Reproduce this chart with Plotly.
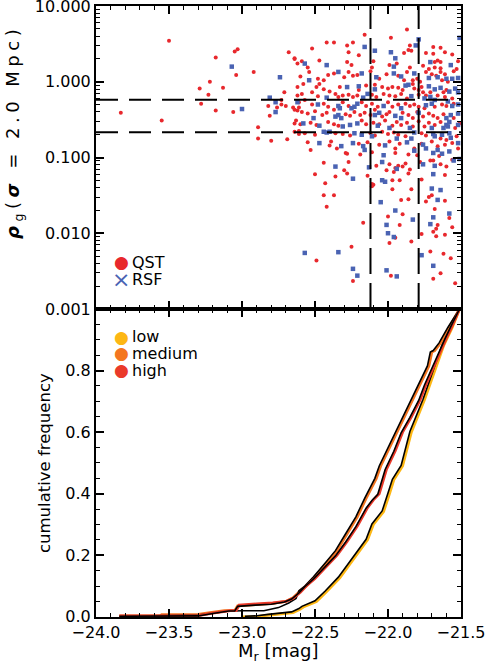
import plotly.graph_objects as go

# ---------------- data: top panel (Mr [mag], log10 rho_g) ----------------
qst_points = [
    (-23.83, -0.41), (-23.55, -0.51), (-23.50, 0.54), (-23.29, -0.09), (-23.28, -0.29), (-23.22, 0.00),
    (-23.23, -0.17), (-23.18, 0.32), (-23.18, -0.38), (-23.13, -0.08), (-23.06, -0.40), (-23.05, 0.40),
    (-23.03, 0.43), (-23.04, 0.09), (-22.92, 0.13), (-22.68, 0.39), (-22.64, 0.30), (-22.62, 0.24),
    (-22.71, -0.14), (-22.73, -0.24), (-22.73, -0.30), (-22.82, -0.32), (-22.76, -0.34), (-22.81, -0.45),
    (-22.70, -0.32), (-22.65, -0.34), (-22.62, -0.38), (-22.62, -0.07), (-22.62, -0.18), (-22.61, -0.34),
    (-22.64, -0.55), (-22.89, -0.60), (-22.89, -0.75), (-22.80, -0.78), (-22.69, -0.76), (-22.64, -0.66),
    (-22.61, -0.69),
    (-21.87, 0.69), (-22.16, 0.62), (-22.42, 0.52), (-22.37, 0.52), (-22.28, 0.48), (-22.24, 0.52),
    (-21.98, 0.58), (-22.52, 0.44), (-21.85, 0.48), (-21.84, 0.41), (-21.86, 0.42), (-21.69, 0.46),
    (-21.64, 0.45), (-22.27, 0.39), (-21.89, 0.38), (-22.20, 0.35), (-21.74, 0.38), (-21.69, 0.37),
    (-21.61, 0.39), (-21.56, 0.36), (-22.64, 0.31), (-22.47, 0.28), (-22.59, 0.27), (-22.28, 0.26),
    (-22.10, 0.27), (-21.94, 0.24), (-21.68, 0.26), (-21.66, 0.28), (-21.64, 0.26), (-21.52, 0.27),
    (-22.55, 0.19), (-22.25, 0.22), (-22.11, 0.19), (-21.99, 0.22), (-21.85, 0.19), (-21.76, 0.21),
    (-21.72, 0.17), (-21.68, 0.19), (-21.64, 0.18), (-21.53, 0.17), (-22.54, 0.13), (-22.27, 0.13),
    (-22.37, 0.11), (-22.41, 0.09), (-22.12, 0.14), (-22.01, 0.10), (-21.93, 0.08), (-21.87, 0.13),
    (-21.74, 0.13), (-21.70, 0.10), (-21.67, 0.08), (-21.64, 0.13), (-21.61, 0.10), (-21.55, 0.14),
    (-22.60, 0.07), (-22.48, 0.04), (-22.44, 0.02), (-22.30, 0.06), (-22.24, 0.08), (-22.21, 0.09),
    (-22.06, 0.04), (-21.89, 0.02), (-21.83, 0.02), (-21.80, 0.04), (-21.78, 0.00), (-21.63, 0.02),
    (-21.59, 0.00), (-22.58, -0.03), (-22.49, -0.07), (-22.47, -0.03), (-22.44, -0.10), (-22.40, -0.13),
    (-22.20, -0.11), (-22.33, -0.07), (-22.15, -0.05), (-22.09, -0.04), (-22.04, -0.07), (-22.00, -0.09),
    (-21.97, -0.07), (-21.93, -0.08), (-21.90, -0.11), (-21.83, -0.03), (-21.82, -0.09), (-21.79, -0.11),
    (-21.77, -0.07), (-21.76, -0.14), (-21.71, -0.14), (-21.62, -0.14), (-21.60, -0.11), (-22.59, -0.16),
    (-22.52, -0.14), (-22.48, -0.19), (-22.36, -0.16), (-22.34, -0.20), (-22.31, -0.18), (-22.27, -0.17),
    (-22.24, -0.20), (-22.21, -0.18), (-22.11, -0.17), (-22.08, -0.20), (-22.03, -0.16), (-21.99, -0.18),
    (-21.95, -0.19), (-21.91, -0.16), (-21.87, -0.22), (-21.79, -0.17), (-21.74, -0.18), (-21.66, -0.18),
    (-21.61, -0.20), (-21.56, -0.22), (-22.61, -0.27), (-22.57, -0.24), (-22.52, -0.30), (-22.44, -0.29),
    (-22.41, -0.33), (-22.31, -0.27), (-22.27, -0.32), (-22.18, -0.27), (-22.15, -0.32), (-22.11, -0.29),
    (-22.07, -0.33), (-22.09, -0.37), (-22.00, -0.27), (-21.97, -0.33), (-21.93, -0.30), (-21.88, -0.29),
    (-21.85, -0.32), (-21.82, -0.30), (-21.79, -0.33), (-21.75, -0.35), (-21.68, -0.33), (-21.63, -0.30),
    (-21.60, -0.32), (-21.55, -0.29), (-22.64, -0.37), (-22.59, -0.40), (-22.55, -0.42), (-22.50, -0.39),
    (-22.45, -0.44), (-22.42, -0.41), (-22.37, -0.37), (-22.29, -0.43), (-22.26, -0.45), (-22.23, -0.40),
    (-22.19, -0.44), (-22.16, -0.41), (-22.12, -0.44), (-22.04, -0.46), (-22.01, -0.43), (-21.99, -0.40),
    (-21.90, -0.41), (-21.86, -0.44), (-21.83, -0.48), (-21.80, -0.40), (-21.76, -0.46), (-21.72, -0.42),
    (-21.69, -0.45), (-21.66, -0.48), (-21.62, -0.43), (-21.55, -0.48), (-22.63, -0.51), (-22.60, -0.56),
    (-22.53, -0.54), (-22.49, -0.57), (-22.41, -0.53), (-22.37, -0.56), (-22.34, -0.58), (-22.18, -0.51),
    (-22.15, -0.56), (-22.10, -0.54), (-22.06, -0.56), (-22.02, -0.51), (-21.97, -0.58), (-21.94, -0.53),
    (-21.91, -0.57), (-21.87, -0.54), (-21.83, -0.59), (-21.79, -0.52), (-21.75, -0.59), (-21.72, -0.54),
    (-21.68, -0.57), (-21.64, -0.53), (-21.54, -0.61), (-21.51, -0.55), (-22.61, -0.65), (-22.57, -0.68),
    (-22.50, -0.70), (-22.36, -0.68), (-22.31, -0.69), (-22.26, -0.71), (-22.12, -0.68), (-22.09, -0.71),
    (-22.04, -0.66), (-22.00, -0.69), (-21.96, -0.67), (-21.93, -0.70), (-21.88, -0.72), (-21.77, -0.68),
    (-21.74, -0.71), (-21.64, -0.75), (-21.60, -0.77), (-21.53, -0.72), (-22.55, -0.80), (-22.39, -0.79),
    (-22.53, -0.90), (-22.40, -0.84), (-22.35, -0.88), (-22.29, -0.94), (-22.20, -0.82), (-22.14, -0.80),
    (-22.06, -0.83), (-21.99, -0.79), (-21.95, -0.88), (-21.92, -0.82), (-21.82, -0.88), (-21.77, -0.82),
    (-21.70, -0.79), (-21.66, -0.85), (-21.61, -0.83), (-21.56, -0.81), (-21.52, -0.88), (-22.28, -0.95),
    (-22.19, -0.96), (-22.11, -0.93), (-21.95, -0.94), (-21.86, -0.96), (-21.80, -0.97), (-21.65, -0.98),
    (-22.44, -1.07), (-22.30, -1.17), (-22.28, -1.21), (-22.27, -1.06), (-22.50, -1.22), (-22.36, -1.25),
    (-22.14, -1.24), (-22.08, -1.11), (-22.01, -1.17), (-21.99, -1.09), (-21.96, -1.19), (-21.95, -1.14),
    (-21.93, -1.11), (-21.90, -1.12), (-21.88, -1.08), (-21.86, -1.21), (-21.85, -1.16), (-21.78, -1.06),
    (-21.77, -1.29), (-21.71, -1.04), (-21.69, -1.04), (-21.64, -1.09), (-21.61, -1.23), (-21.60, -1.12),
    (-21.56, -1.03), (-22.43, -1.34), (-22.11, -1.35), (-22.10, -1.36), (-22.11, -1.38), (-21.97, -1.30),
    (-21.92, -1.30), (-21.84, -1.42), (-21.97, -1.42), (-22.44, -1.50), (-22.37, -1.50), (-21.91, -1.56),
    (-21.86, -1.55), (-21.72, -1.52), (-21.70, -1.50), (-21.74, -1.58), (-21.61, -1.57), (-22.42, -1.65),
    (-21.68, -1.68), (-21.90, -1.75), (-22.00, -1.78), (-21.58, -1.80), (-22.17, -1.86), (-21.92, -1.89),
    (-21.66, -1.89), (-21.56, -1.92), (-21.67, -1.94), (-21.77, -2.01), (-21.69, -1.98), (-21.61, -2.02),
    (-21.95, -2.06), (-21.67, -2.04), (-21.99, -2.13), (-21.84, -2.11), (-22.25, -2.18), (-22.49, -2.36),
    (-21.71, -2.24), (-21.62, -2.27), (-21.57, -2.33), (-22.24, -2.63), (-21.98, -2.56), (-21.64, -2.53),
    (-21.69, -2.60), (-21.54, -2.66),
]

rsf_points = [
    (-23.07, 0.20), (-23.00, -0.36), (-22.74, 0.06), (-22.81, -0.21), (-22.77, -0.27), (-22.77, -0.40),
    (-22.62, -0.27), (-22.16, 0.46), (-22.09, 0.41), (-21.81, 0.48), (-21.79, 0.56), (-21.98, 0.39),
    (-22.57, 0.24), (-21.95, 0.31), (-21.71, 0.26), (-22.42, 0.22), (-21.96, 0.20), (-21.57, 0.22),
    (-22.34, 0.13), (-22.18, 0.11), (-21.96, 0.11), (-21.82, 0.11), (-22.54, 0.02), (-22.08, 0.06),
    (-21.91, 0.07), (-21.72, 0.05), (-21.66, 0.06), (-21.60, 0.04), (-21.56, 0.04), (-21.52, 0.05),
    (-22.28, -0.07), (-22.20, -0.06), (-22.09, -0.10), (-21.86, -0.04), (-21.88, -0.05), (-21.72, -0.06),
    (-21.68, -0.10), (-21.64, -0.08), (-21.58, -0.13), (-21.54, -0.09), (-21.52, -0.14), (-22.42, -0.21),
    (-22.17, -0.21), (-22.14, -0.16), (-21.84, -0.19), (-21.75, -0.22), (-21.71, -0.20), (-21.68, -0.24),
    (-21.59, -0.26), (-22.48, -0.30), (-22.34, -0.32), (-22.33, -0.35), (-22.23, -0.33), (-22.21, -0.29),
    (-22.03, -0.32), (-21.91, -0.35), (-21.74, -0.31), (-21.70, -0.29), (-21.56, -0.32), (-21.52, -0.30),
    (-22.51, -0.48), (-22.58, -0.55), (-22.36, -0.46), (-22.32, -0.48), (-22.34, -0.44), (-22.25, -0.35),
    (-22.09, -0.44), (-22.06, -0.41), (-21.95, -0.45), (-21.91, -0.48), (-21.79, -0.41), (-21.60, -0.48),
    (-21.52, -0.42), (-21.57, -0.44), (-22.47, -0.58), (-22.31, -0.59), (-22.26, -0.57), (-22.21, -0.55),
    (-22.07, -0.58), (-21.99, -0.61), (-21.85, -0.61), (-21.70, -0.61), (-21.60, -0.57), (-21.59, -0.59),
    (-21.62, -0.61), (-21.58, -0.53), (-21.52, -0.57), (-22.44, -0.66), (-22.42, -0.67), (-22.40, -0.66),
    (-22.23, -0.68), (-22.18, -0.70), (-22.11, -0.72), (-21.94, -0.75), (-21.84, -0.75), (-21.82, -0.67),
    (-21.69, -0.69), (-21.68, -0.72), (-21.63, -0.70), (-21.58, -0.68), (-21.57, -0.74), (-22.47, -0.81),
    (-22.32, -0.85), (-22.24, -0.81), (-22.17, -0.85), (-22.16, -0.90), (-22.02, -0.84), (-22.03, -0.97),
    (-21.87, -0.80), (-21.82, -0.91), (-21.76, -0.83), (-21.74, -0.88), (-21.69, -0.94), (-21.63, -0.95),
    (-21.58, -0.92), (-21.66, -0.90), (-21.52, -0.81), (-21.51, 0.58),
    (-22.36, -1.12), (-22.13, -1.13), (-22.24, -1.28), (-22.04, -1.06), (-21.94, -1.15), (-21.76, -1.09),
    (-21.69, -1.22), (-21.68, -1.11), (-21.55, -1.04), (-21.51, -1.02), (-22.04, -1.30), (-22.02, -1.32),
    (-21.70, -1.41), (-21.64, -1.43), (-21.66, -1.56), (-22.05, -1.59), (-21.95, -1.70), (-21.58, -1.74),
    (-21.83, -1.82), (-21.69, -1.79), (-22.01, -1.89), (-21.71, -1.88), (-22.00, -2.00), (-21.96, -2.05),
    (-22.57, -2.26), (-22.34, -2.25), (-21.77, -2.29), (-22.24, -2.47), (-22.01, -2.49), (-22.21, -2.56),
    (-21.94, -2.57), (-21.69, -2.43),
]

threshold_rho = [0.58, 0.215]      # horizontal dashed lines
threshold_mr = [-22.12, -21.79]    # vertical dashed lines

# ---------------- data: bottom panel (cumulative frequency) ----------------
low_mr = [-23.00, -22.90, -22.81, -22.70, -22.65, -22.60, -22.58, -22.49, -22.42, -22.33, -22.24, -22.14,
          -22.10, -22.03, -21.99, -21.96, -21.90, -21.84, -21.75, -21.67, -21.62, -21.56, -21.51]
low_cf = [0.0, 0.001, 0.006, 0.010, 0.014, 0.025, 0.032, 0.050, 0.082, 0.127, 0.185, 0.250,
          0.300, 0.342, 0.400, 0.445, 0.490, 0.600, 0.705, 0.810, 0.880, 0.940, 1.0]

medium_mr = [-23.84, -23.56, -23.55, -23.30, -23.22, -23.12, -23.05, -23.03, -22.90, -22.79, -22.70, -22.65,
             -22.60, -22.56, -22.50, -22.42, -22.35, -22.28, -22.21, -22.15, -22.08, -22.05, -21.99, -21.94,
             -21.88, -21.83, -21.78, -21.74, -21.72, -21.70, -21.68, -21.64, -21.58, -21.51]
medium_cf = [0.003, 0.003, 0.007, 0.008, 0.014, 0.020, 0.020, 0.036, 0.040, 0.044, 0.050, 0.062,
             0.085, 0.100, 0.130, 0.175, 0.215, 0.270, 0.325, 0.385, 0.450, 0.490, 0.550, 0.600,
             0.655, 0.705, 0.760, 0.800, 0.815, 0.860, 0.865, 0.890, 0.940, 1.0]

high_mr = [-23.84, -23.30, -23.20, -23.08, -23.04, -23.02, -22.90, -22.79, -22.70, -22.65, -22.60, -22.56,
           -22.50, -22.45, -22.42, -22.35, -22.28, -22.21, -22.14, -22.10, -22.06, -22.04, -22.01, -21.95,
           -21.90, -21.84, -21.78, -21.74, -21.69, -21.64, -21.60, -21.56, -21.51]
high_cf = [0.003, 0.004, 0.012, 0.020, 0.020, 0.038, 0.042, 0.045, 0.050, 0.060, 0.080, 0.100,
           0.125, 0.150, 0.165, 0.200, 0.245, 0.295, 0.355, 0.380, 0.400, 0.430, 0.480, 0.540,
           0.600, 0.650, 0.705, 0.755, 0.810, 0.860, 0.905, 0.945, 1.0]

low_all_mr = [-22.98, -22.91, -22.82, -22.71, -22.66, -22.61, -22.59, -22.50, -22.43, -22.34, -22.25, -22.15,
              -22.11, -22.04, -22.00, -21.97, -21.91, -21.85, -21.76, -21.68, -21.63, -21.57, -21.51]
low_all_cf = [0.002, 0.003, 0.008, 0.012, 0.016, 0.027, 0.034, 0.052, 0.084, 0.129, 0.187, 0.252,
              0.302, 0.344, 0.402, 0.447, 0.492, 0.602, 0.707, 0.812, 0.882, 0.942, 1.0]

medium_all_mr = [-23.84, -23.50, -23.30, -23.20, -23.10, -23.00, -22.85, -22.75, -22.68, -22.63, -22.61, -22.57,
                 -22.51, -22.43, -22.36, -22.29, -22.22, -22.16, -22.09, -22.06, -22.00, -21.95, -21.89, -21.84,
                 -21.79, -21.75, -21.73, -21.71, -21.69, -21.65, -21.59, -21.51]
medium_all_cf = [0.002, 0.004, 0.006, 0.012, 0.018, 0.020, 0.020, 0.030, 0.045, 0.060, 0.085, 0.100,
                 0.130, 0.175, 0.215, 0.270, 0.325, 0.385, 0.450, 0.490, 0.550, 0.600, 0.655, 0.705,
                 0.760, 0.800, 0.815, 0.860, 0.865, 0.890, 0.940, 1.0]

high_all_mr = [-23.84, -23.30, -23.20, -23.09, -23.05, -23.03, -22.91, -22.80, -22.71, -22.66, -22.61, -22.57,
               -22.51, -22.46, -22.43, -22.36, -22.29, -22.22, -22.15, -22.11, -22.07, -22.05, -22.02, -21.96,
               -21.91, -21.85, -21.79, -21.75, -21.70, -21.65, -21.61, -21.57, -21.51]
high_all_cf = [0.002, 0.003, 0.011, 0.019, 0.019, 0.034, 0.038, 0.041, 0.048, 0.058, 0.078, 0.098,
               0.123, 0.148, 0.163, 0.198, 0.243, 0.293, 0.353, 0.378, 0.398, 0.428, 0.478, 0.538,
               0.598, 0.648, 0.703, 0.753, 0.808, 0.858, 0.903, 0.943, 1.0]

x_range = [-24.0, -21.5]
x_tickvals = [-24.0, -23.5, -23.0, -22.5, -22.0, -21.5]
top_tickvals = [10, 1, 0.1, 0.01, 0.001]
top_ticktext = ["10.000", "1.000", "0.100", "0.010", "0.001"]
bot_tickvals = [0.0, 0.2, 0.4, 0.6, 0.8]
bot_ticktext = ["0.0", "0.2", "0.4", "0.6", "0.8"]

# ---------------- styles ----------------
FONT = "DejaVu Sans"
RED = "#e8282d"
BLUE = "#4a63b3"
C_LOW = "#fdb714"
C_MED = "#f47621"
C_HIGH = "#ea3a2a"

M_TOP, M_BOT = 6, 47
PLOT_H = 664 - M_TOP - M_BOT
SPLIT = 308.0 / PLOT_H          # bottom panel height fraction

fig = go.Figure()

fig.add_trace(go.Scatter(
    x=[p[0] for p in qst_points], y=[10 ** p[1] for p in qst_points],
    mode="markers", xaxis="x2", yaxis="y2", showlegend=False,
    marker=dict(color=RED, size=4, line=dict(width=0))))
fig.add_trace(go.Scatter(
    x=[p[0] for p in rsf_points], y=[10 ** p[1] for p in rsf_points],
    mode="markers", xaxis="x2", yaxis="y2", showlegend=False,
    marker=dict(color=BLUE, size=4.5, symbol="square", line=dict(width=0))))

for mr, cf, col, amr, acf in [
        (low_mr, low_cf, C_LOW, low_all_mr, low_all_cf),
        (medium_mr, medium_cf, C_MED, medium_all_mr, medium_all_cf),
        (high_mr, high_cf, C_HIGH, high_all_mr, high_all_cf)]:
    fig.add_trace(go.Scatter(x=mr, y=cf, mode="lines", xaxis="x", yaxis="y", showlegend=False,
                             line=dict(color=col, width=2.8)))
    fig.add_trace(go.Scatter(x=amr, y=acf, mode="lines", xaxis="x", yaxis="y", showlegend=False,
                             line=dict(color="black", width=1.6)))

shapes = []
for r in threshold_rho:
    shapes.append(dict(type="line", xref="x2 domain", yref="y2", x0=0, x1=1, y0=r, y1=r,
                       line=dict(color="black", width=2, dash="22px,11px")))
for m in threshold_mr:
    shapes.append(dict(type="line", xref="x2", yref="y2 domain", x0=m, x1=m, y0=0, y1=1,
                       line=dict(color="black", width=2, dash="26px,9px")))

axis_common = dict(showline=True, linecolor="black", linewidth=2, mirror="allticks",
                   ticks="inside", ticklen=8, tickwidth=1.5, tickcolor="black",
                   showgrid=False, zeroline=False, ticklabeloverflow="allow", automargin=False,
                   tickfont=dict(family=FONT, size=16, color="black"))

minor_log = []
for e in [-3, -2, -1, 0]:
    for k in range(2, 10):
        minor_log.append(k * 10 ** e)

fig.update_layout(
    width=485, height=664,
    margin=dict(l=96, r=24, t=M_TOP, b=M_BOT, autoexpand=False),
    paper_bgcolor="white", plot_bgcolor="white",
    font=dict(family=FONT, size=16, color="black"),
    xaxis=dict(domain=[0, 1], anchor="y", range=x_range, tickvals=x_tickvals,
               tickformat=".1f", minor=dict(dtick=0.1, tick0=-24, ticks="inside", ticklen=4,
                                             tickcolor="black", tickwidth=1.2),
               **axis_common),
    yaxis=dict(domain=[0, SPLIT], anchor="x", range=[-0.0005, 1.0], tickvals=bot_tickvals,
               ticktext=bot_ticktext,
               minor=dict(dtick=0.05, tick0=0, ticks="inside", ticklen=4,
                          tickcolor="black", tickwidth=1.2),
               **axis_common),
    xaxis2=dict(domain=[0, 1], anchor="y2", matches="x", range=x_range, tickvals=x_tickvals,
                showticklabels=False,
                minor=dict(dtick=0.1, tick0=-24, ticks="inside", ticklen=4,
                           tickcolor="black", tickwidth=1.2),
                **axis_common),
    yaxis2=dict(domain=[SPLIT, 1], anchor="x2", type="log", range=[-3.0005, 1.0005],
                tickvals=top_tickvals, ticktext=top_ticktext,
                minor=dict(tickvals=minor_log, ticks="inside", ticklen=4,
                           tickcolor="black", tickwidth=1.2),
                **axis_common),
    shapes=shapes,
)

def px_x(px):
    return (px - 96) / 365.0

def px_y(py):
    return (664 - M_BOT - py) / float(PLOT_H)

ann = []
# legends drawn as text (top panel: QST / RSF; bottom panel: low / medium / high)
legend_top = [("●", RED, "QST", 262), ("×", BLUE, "RSF", 279)]
for sym, col, label, py in legend_top:
    ann.append(dict(x=px_x(121), y=px_y(py), xref="paper", yref="paper", text=sym, showarrow=False,
                    xanchor="center", yanchor="middle", borderpad=0,
                    font=dict(family=FONT, size=17 if sym == "●" else 22, color=col)))
    ann.append(dict(x=px_x(131), y=px_y(py), xref="paper", yref="paper", text=label, showarrow=False,
                    xanchor="left", yanchor="middle", borderpad=0,
                    font=dict(family=FONT, size=16, color="black")))
legend_bot = [(C_LOW, "low", 336.7), (C_MED, "medium", 353.3), (C_HIGH, "high", 370)]
for col, label, py in legend_bot:
    ann.append(dict(x=px_x(121), y=px_y(py), xref="paper", yref="paper", text="●", showarrow=False,
                    xanchor="center", yanchor="middle", borderpad=0,
                    font=dict(family=FONT, size=17, color=col)))
    ann.append(dict(x=px_x(131), y=px_y(py), xref="paper", yref="paper", text=label, showarrow=False,
                    xanchor="left", yanchor="middle", borderpad=0,
                    font=dict(family=FONT, size=16, color="black")))
# axis titles
ann.append(dict(x=px_x(14), y=px_y(132), xref="paper", yref="paper", showarrow=False, textangle=-90,
                text='<span style="letter-spacing:4.5px"><b><i>ρ</i></b><sub>g</sub>(<b><i>σ</i></b> = 2.0 Mpc)</span>',
                xanchor="center", yanchor="middle", font=dict(family=FONT, size=18, color="black")))
ann.append(dict(x=px_x(44), y=px_y(463), xref="paper", yref="paper", showarrow=False, textangle=-90,
                text="cumulative frequency",
                xanchor="center", yanchor="middle", font=dict(family=FONT, size=16.5, color="black")))
ann.append(dict(x=px_x(278), y=px_y(652), xref="paper", yref="paper", showarrow=False,
                text="M<sub>r</sub> [mag]",
                xanchor="center", yanchor="middle", font=dict(family=FONT, size=18, color="black")))
fig.update_layout(annotations=ann)

fig.write_html("out.html")
